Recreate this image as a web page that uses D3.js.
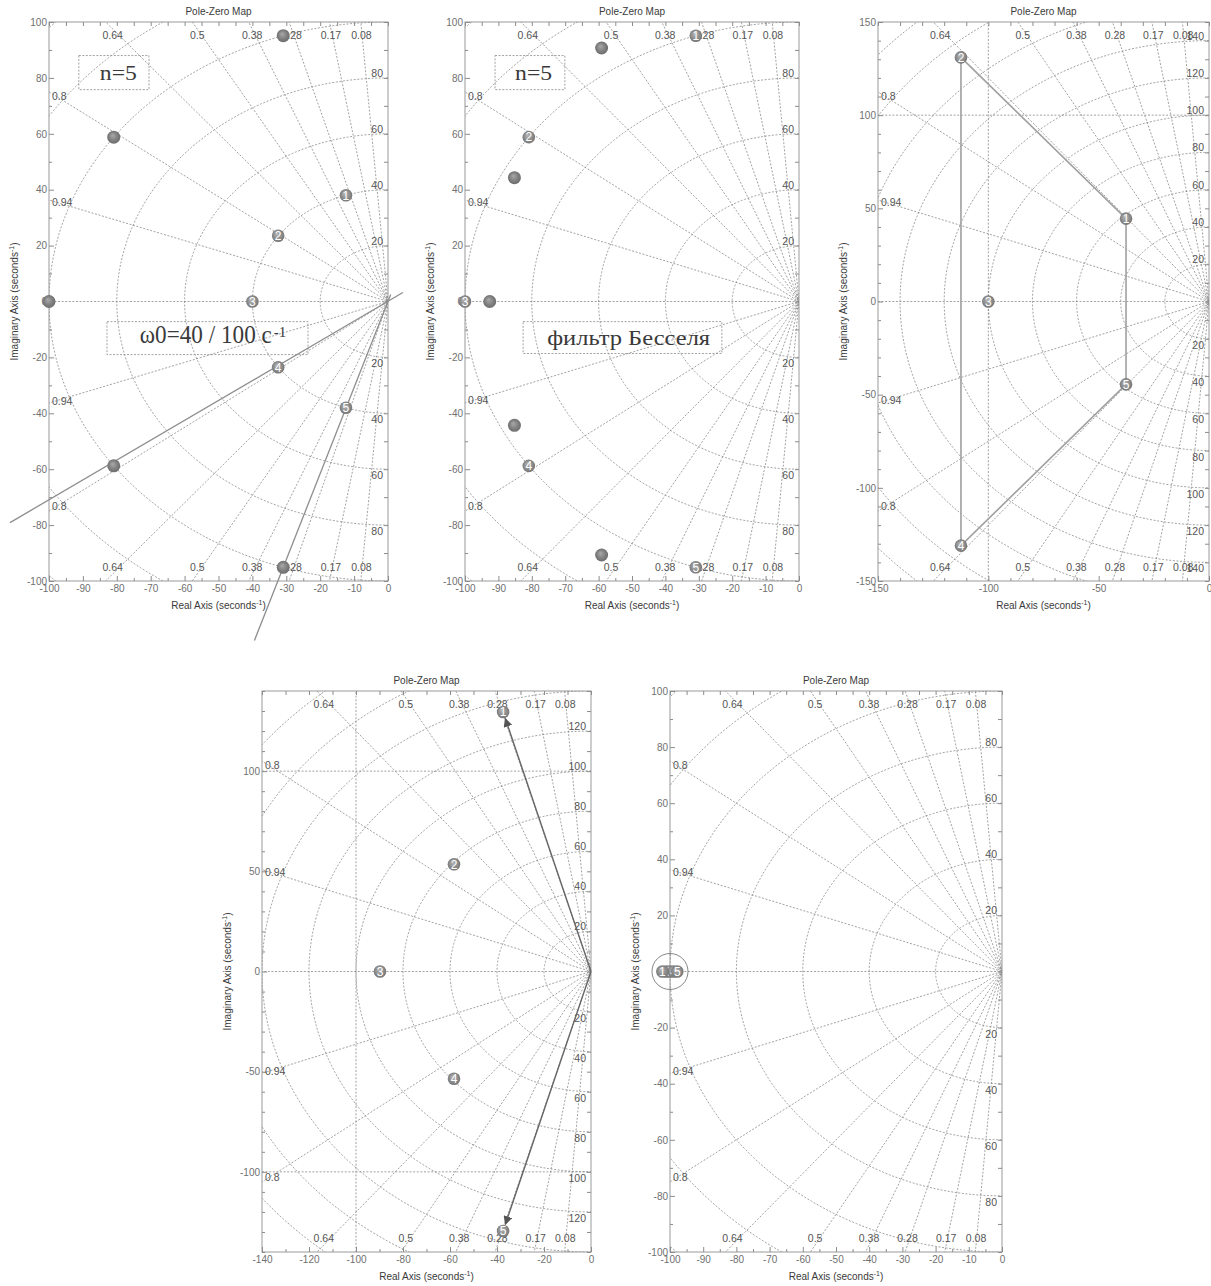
<!DOCTYPE html>
<html>
<head>
<meta charset="utf-8">
<script src="https://cdnjs.cloudflare.com/ajax/libs/d3/7.8.5/d3.min.js"></script>
<style>
body { margin: 0; background: #fff; }
svg { display: block; font-family: "Liberation Sans", Arial, sans-serif; }
</style>
</head>
<body>
<script>
const W = 1211, H = 1286;

// sgrid damping ratios
const zetaLines = [0.08, 0.17, 0.28, 0.38, 0.5, 0.64, 0.8, 0.94];

// ticks
const xTicks100 = [-100, -90, -80, -70, -60, -50, -40, -30, -20, -10, 0];
const xMinor100 = [-95, -85, -75, -65, -55, -45, -35, -25, -15, -5];
const yTicks100 = [-100, -80, -60, -40, -20, 0, 20, 40, 60, 80, 100];
const yMinor100 = [-90, -70, -50, -30, -10, 10, 30, 50, 70, 90];
const xTicks150 = [-150, -100, -50, 0];
const xMinor150 = [-140, -130, -120, -110, -90, -80, -70, -60, -40, -30, -20, -10];
const yTicks150 = [-150, -100, -50, 0, 50, 100, 150];
const yMinor150 = [-140, -130, -120, -110, -90, -80, -70, -60, -40, -30, -20, -10,
                   10, 20, 30, 40, 60, 70, 80, 90, 110, 120, 130, 140];
const xTicks140 = [-140, -120, -100, -80, -60, -40, -20, 0];
const xMinor140 = [-130, -110, -90, -70, -50, -30, -10];
const yTicks140 = [-100, -50, 0, 50, 100];
const yMinor140 = [-140, -130, -120, -110, -90, -80, -70, -60, -40, -30, -20, -10,
                   10, 20, 30, 40, 60, 70, 80, 90, 110, 120, 130, 140];

// natural frequency circles and their labels
const wnCircles100 = [20, 40, 60, 80, 100, 120, 140];
const wnLabels100 = [20, 40, 60, 80];
const wnCircles150 = [20, 40, 60, 80, 100, 120, 140, 160, 180, 200];
const wnLabels150 = [20, 40, 60, 80, 100, 120, 140];
const wnCircles140 = [20, 40, 60, 80, 100, 120, 140, 160, 180, 200];
const wnLabels140 = [20, 40, 60, 80, 100, 120];

// poles [re, im]
const butterworth40 = [[-12.4, 38.0], [-32.4, 23.5], [-40, 0], [-32.4, -23.5], [-12.4, -38.0]];
const butterworth100 = [[-30.9, 95.1], [-80.9, 58.8], [-100, 0], [-80.9, -58.8], [-30.9, -95.1]];
const bessel100 = [[-59.1, 90.7], [-85.2, 44.3], [-92.6, 0], [-85.2, -44.3], [-59.1, -90.7]];
const poles3 = [[-37.6, 44.5], [-112.4, 131], [-100, 0], [-112.4, -131], [-37.6, -44.5]];
const poles4 = [[-37.4, 129.5], [-58.3, 53.5], [-89.8, 0], [-58.3, -53.5], [-37.4, -129.5]];
const poles5 = [[-102.3, 0], [-101.1, 0], [-100, 0], [-98.9, 0], [-97.8, 0]];

// drawn lines
const rays1 = [[[-111.5, -79.1], [4.4, 3.2]], [[-39.4, -121.3], [0.8, 2.5]]];
const path3 = [2, 1, 5, 4, 2];   // pole numbers joined by a line
const arrows4 = [1, 5];          // arrows from origin to pole

const panels = [
  { frame: { left: 49, top: 22, right: 388, bottom: 581 }, xDomain: [-100, 0], yDomain: [-100, 100],
    xTicks: xTicks100, xMinor: xMinor100, yTicks: yTicks100, yMinor: yMinor100,
    wnCircles: wnCircles100, wnLabels: wnLabels100, plain: butterworth100, numbered: butterworth40 },
  { frame: { left: 465, top: 22, right: 799, bottom: 581 }, xDomain: [-100, 0], yDomain: [-100, 100],
    xTicks: xTicks100, xMinor: xMinor100, yTicks: yTicks100, yMinor: yMinor100,
    wnCircles: wnCircles100, wnLabels: wnLabels100, plain: bessel100, numbered: butterworth100 },
  { frame: { left: 878, top: 22, right: 1209, bottom: 581 }, xDomain: [-150, 0], yDomain: [-150, 150],
    xTicks: xTicks150, xMinor: xMinor150, yTicks: yTicks150, yMinor: yMinor150,
    wnCircles: wnCircles150, wnLabels: wnLabels150, plain: [], numbered: poles3,
    vLines: [-100], hLines: [100] },
  { frame: { left: 262, top: 691, right: 591, bottom: 1252 }, xDomain: [-140, 0], yDomain: [-140, 140],
    xTicks: xTicks140, xMinor: xMinor140, yTicks: yTicks140, yMinor: yMinor140,
    wnCircles: wnCircles140, wnLabels: wnLabels140, plain: [], numbered: poles4,
    vLines: [-100], hLines: [100, -100] },
  { frame: { left: 670, top: 691, right: 1002, bottom: 1252 }, xDomain: [-100, 0], yDomain: [-100, 100],
    xTicks: xTicks100, xMinor: xMinor100, yTicks: yTicks100, yMinor: yMinor100,
    wnCircles: wnCircles100, wnLabels: wnLabels100, plain: [], numbered: poles5 }
];

const svg = d3.select('body').append('svg').attr('width', W).attr('height', H);
const defs = svg.append('defs');

function ball(id, c0, c1, c2) {
  const gr = defs.append('radialGradient').attr('id', id)
    .attr('cx', '50%').attr('cy', '50%').attr('r', '55%').attr('fx', '40%').attr('fy', '35%');
  gr.append('stop').attr('offset', '0%').attr('stop-color', c0);
  gr.append('stop').attr('offset', '65%').attr('stop-color', c1);
  gr.append('stop').attr('offset', '100%').attr('stop-color', c2);
}
ball('ballPlain', '#a9a9a9', '#7c7c7c', '#6a6a6a');
ball('ballNum', '#b8b8b8', '#8a8a8a', '#707070');

defs.append('marker').attr('id', 'arrowHead')
  .attr('viewBox', '0 0 10 10').attr('refX', 9).attr('refY', 5)
  .attr('markerWidth', 9).attr('markerHeight', 9).attr('markerUnits', 'userSpaceOnUse')
  .attr('orient', 'auto')
  .append('path').attr('d', 'M0,0 L10,5 L0,10 z').attr('fill', '#555');

function styleAxis(sel) {
  sel.select('.domain').remove();
  sel.attr('font-family', '"Liberation Sans", Arial, sans-serif').attr('font-size', 10);
  sel.selectAll('.tick line').attr('stroke', '#8c8c8c');
  sel.selectAll('.tick text').attr('fill', '#707070');
}

function drawPanel(p, i) {
  const f = p.frame;
  const x = d3.scaleLinear().domain(p.xDomain).range([f.left, f.right]);
  const y = d3.scaleLinear().domain(p.yDomain).range([f.bottom, f.top]);
  const line = d3.line().x(d => x(d[0])).y(d => y(d[1]));
  const g = svg.append('g');

  defs.append('clipPath').attr('id', 'clip' + i).append('rect')
    .attr('x', f.left).attr('y', f.top).attr('width', f.right - f.left).attr('height', f.bottom - f.top);

  const grid = g.append('g').attr('clip-path', `url(#clip${i})`)
    .attr('fill', 'none').attr('stroke', '#7a7a7a').attr('stroke-width', 0.7)
    .attr('stroke-dasharray', '2,1.6');

  p.wnCircles.forEach(r => {
    const pts = d3.range(90, 270.01, 0.5).map(a => [r * Math.cos(a * Math.PI / 180), r * Math.sin(a * Math.PI / 180)]);
    grid.append('path').attr('d', line(pts));
  });
  const R = 1000;
  zetaLines.forEach(z => {
    const s = Math.sqrt(1 - z * z);
    grid.append('path').attr('d', line([[-R * z, R * s], [0, 0], [-R * z, -R * s]]));
  });
  grid.append('path').attr('d', line([[-R, 0], [0, 0]]));
  (p.vLines || []).forEach(v => grid.append('path').attr('d', line([[v, p.yDomain[0]], [v, p.yDomain[1]]])));
  (p.hLines || []).forEach(h => grid.append('path').attr('d', line([[p.xDomain[0], h], [p.xDomain[1], h]])));

  // frame
  g.append('rect').attr('x', f.left).attr('y', f.top)
    .attr('width', f.right - f.left).attr('height', f.bottom - f.top)
    .attr('fill', 'none').attr('stroke', '#9a9a9a').attr('stroke-width', 1);

  // ticks, inward on all sides
  const fmt = d => String(d);
  g.append('g').attr('transform', `translate(0,${f.bottom})`)
    .call(d3.axisBottom(x).tickValues(p.xTicks).tickSize(-5).tickPadding(4).tickFormat(fmt)).call(styleAxis);
  g.append('g').attr('transform', `translate(0,${f.bottom})`)
    .call(d3.axisBottom(x).tickValues(p.xMinor).tickSize(-3).tickFormat('')).call(styleAxis);
  g.append('g').attr('transform', `translate(0,${f.top})`)
    .call(d3.axisTop(x).tickValues(p.xTicks.concat(p.xMinor)).tickSize(-4).tickFormat('')).call(styleAxis);
  g.append('g').attr('transform', `translate(${f.left},0)`)
    .call(d3.axisLeft(y).tickValues(p.yTicks).tickSize(-5).tickPadding(2).tickFormat(fmt)).call(styleAxis);
  g.append('g').attr('transform', `translate(${f.left},0)`)
    .call(d3.axisLeft(y).tickValues(p.yMinor).tickSize(-3).tickFormat('')).call(styleAxis);
  g.append('g').attr('transform', `translate(${f.right},0)`)
    .call(d3.axisRight(y).tickValues(p.yTicks.concat(p.yMinor)).tickSize(-4).tickFormat('')).call(styleAxis);

  // grid labels
  const lab = g.append('g').attr('fill', '#555').attr('font-size', 10.5);
  const insetY = y.invert(f.top + 7);
  const insetX = x.invert(f.left + 7);
  zetaLines.forEach(z => {
    const s = Math.sqrt(1 - z * z);
    const X = -insetY * z / s;
    if (X >= insetX) {
      lab.append('text').attr('x', x(X)).attr('y', f.top + 17).attr('text-anchor', 'middle').text(z);
      lab.append('text').attr('x', x(X)).attr('y', f.bottom - 10).attr('text-anchor', 'middle').text(z);
    } else {
      const Y = -insetX * s / z;
      lab.append('text').attr('x', f.left + 3).attr('y', y(Y)).attr('dy', '0.35em').text(z);
      lab.append('text').attr('x', f.left + 3).attr('y', y(-Y)).attr('dy', '0.35em').text(z);
    }
  });
  p.wnLabels.forEach(w => {
    lab.append('text').attr('x', f.right - 5).attr('y', y(w) - 1).attr('text-anchor', 'end').text(w);
    lab.append('text').attr('x', f.right - 5).attr('y', y(-w) + 10).attr('text-anchor', 'end').text(w);
  });

  // title and axis labels
  const cx = (f.left + f.right) / 2, cy = (f.top + f.bottom) / 2;
  g.append('text').attr('x', cx).attr('y', f.top - 7).attr('text-anchor', 'middle')
    .attr('font-size', 10).attr('fill', '#3a3a3a').text('Pole-Zero Map');
  const xl = g.append('text').attr('x', cx).attr('y', f.bottom + 28).attr('text-anchor', 'middle')
    .attr('font-size', 10).attr('fill', '#3a3a3a');
  xl.append('tspan').text('Real Axis (seconds');
  xl.append('tspan').attr('font-size', 7).attr('dy', -4).text('-1');
  xl.append('tspan').attr('dy', 4).text(')');
  const yl = g.append('text').attr('transform', `translate(${f.left - 31},${cy}) rotate(-90)`)
    .attr('text-anchor', 'middle').attr('font-size', 10).attr('fill', '#3a3a3a');
  yl.append('tspan').text('Imaginary Axis (seconds');
  yl.append('tspan').attr('font-size', 7).attr('dy', -4).text('-1');
  yl.append('tspan').attr('dy', 4).text(')');

  return { g, x, y, line };
}

const ctx = panels.map(drawPanel);

// extra lines drawn by hand on panels
const c1 = ctx[0];
rays1.forEach(r => c1.g.append('path').attr('d', c1.line(r))
  .attr('stroke', '#8e8e8e').attr('stroke-width', 1.3).attr('fill', 'none'));

const c3 = ctx[2];
c3.g.append('path').attr('d', c3.line(path3.map(n => poles3[n - 1])))
  .attr('stroke', '#a0a0a0').attr('stroke-width', 1.6).attr('fill', 'none');

const c4 = ctx[3];
arrows4.forEach(n => {
  const pt = poles4[n - 1];
  const x0 = c4.x(0), y0 = c4.y(0), x1 = c4.x(pt[0]), y1 = c4.y(pt[1]);
  const len = Math.hypot(x1 - x0, y1 - y0), k = (len - 7) / len;
  c4.g.append('line').attr('x1', x0).attr('y1', y0)
    .attr('x2', x0 + (x1 - x0) * k).attr('y2', y0 + (y1 - y0) * k)
    .attr('stroke', '#666').attr('stroke-width', 1.4).attr('marker-end', 'url(#arrowHead)');
});

const c5 = ctx[4];
c5.g.append('circle').attr('cx', c5.x(-100)).attr('cy', c5.y(0)).attr('r', 18)
  .attr('fill', 'none').attr('stroke', '#6a6a6a').attr('stroke-width', 0.8);

// poles
panels.forEach((p, i) => {
  const { g, x, y } = ctx[i];
  const pg = g.append('g');
  p.plain.forEach(d => pg.append('circle').attr('cx', x(d[0])).attr('cy', y(d[1]))
    .attr('r', 6.5).attr('fill', 'url(#ballPlain)'));
  const nums = p.numbered.map((d, k) => ({ d, n: k + 1 }));
  nums.sort((a, b) => (a.n === 1 || a.n === 5) - (b.n === 1 || b.n === 5));
  nums.forEach(({ d, n }) => {
    const m = pg.append('g').attr('transform', `translate(${x(d[0])},${y(d[1])})`);
    m.append('circle').attr('r', 6.3).attr('fill', 'url(#ballNum)');
    m.append('text').attr('text-anchor', 'middle').attr('dy', '0.36em')
      .attr('font-size', 12).attr('fill', '#fff').text(n);
  });
});

// text boxes
const notes = [
  { panel: 0, box: [-91.2, 88, -70.5, 75.8], at: [-85, 79.1], text: 'n=5', sup: '', size: 21, len: 37 },
  { panel: 0, box: [-82.9, -7.2, -23.6, -19.0], at: [-73.2, -15.0], text: 'ω0=40 / 100 c', sup: '-1', size: 25, len: 132 },
  { panel: 1, box: [-91, 88, -70.1, 75.8], at: [-85, 79.1], text: 'n=5', sup: '', size: 21, len: 37 },
  { panel: 1, box: [-82.6, -7.2, -23.1, -18.6], at: [-75.4, -15.7], text: 'фильтр Бесселя', sup: '', size: 21, len: 163 }
];
notes.forEach(nt => {
  const { g, x, y } = ctx[nt.panel];
  const b = nt.box;
  g.append('rect').attr('x', x(b[0])).attr('y', y(b[1]))
    .attr('width', x(b[2]) - x(b[0])).attr('height', y(b[3]) - y(b[1]))
    .attr('fill', 'none').attr('stroke', '#8a8a8a').attr('stroke-width', 0.8).attr('stroke-dasharray', '2,1.5');
  const t = g.append('text').attr('x', x(nt.at[0])).attr('y', y(nt.at[1]))
    .attr('font-family', '"Liberation Serif", "DejaVu Serif", serif').attr('font-size', nt.size)
    .attr('fill', '#3a3a3a').attr('textLength', nt.len).attr('lengthAdjust', 'spacingAndGlyphs')
    .text(nt.text);
  if (nt.sup) {
    g.append('text').attr('x', x(nt.at[0]) + nt.len + 2).attr('y', y(nt.at[1]) - 6)
      .attr('font-family', '"Liberation Serif", "DejaVu Serif", serif').attr('font-size', 15)
      .attr('fill', '#3a3a3a').text(nt.sup);
  }
});
</script>
</body>
</html>
